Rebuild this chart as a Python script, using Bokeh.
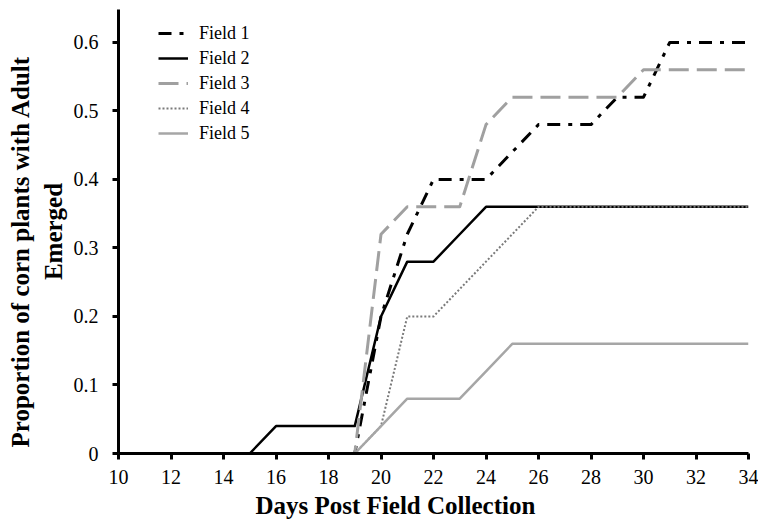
from bokeh.plotting import figure
from bokeh.models import FixedTicker, Legend, LegendItem, Range1d, Title
from bokeh.embed import file_html
from bokeh.resources import INLINE

days = list(range(10, 35))
field1 = [0, 0, 0, 0, 0, 0, 0, 0, 0, 0, 0.2, 0.32, 0.4, 0.4, 0.4, 0.44, 0.48, 0.48, 0.48, 0.52, 0.52, 0.6, 0.6, 0.6, 0.6]
field2 = [0, 0, 0, 0, 0, 0, 0.04, 0.04, 0.04, 0.04, 0.2, 0.28, 0.28, 0.32, 0.36, 0.36, 0.36, 0.36, 0.36, 0.36, 0.36, 0.36, 0.36, 0.36, 0.36]
field3 = [0, 0, 0, 0, 0, 0, 0, 0, 0, 0, 0.32, 0.36, 0.36, 0.36, 0.48, 0.52, 0.52, 0.52, 0.52, 0.52, 0.56, 0.56, 0.56, 0.56, 0.56]
field4 = [0, 0, 0, 0, 0, 0, 0, 0, 0, 0, 0.04, 0.2, 0.2, 0.24, 0.28, 0.32, 0.36, 0.36, 0.36, 0.36, 0.36, 0.36, 0.36, 0.36, 0.36]
field5 = [0, 0, 0, 0, 0, 0, 0, 0, 0, 0, 0.04, 0.08, 0.08, 0.08, 0.12, 0.16, 0.16, 0.16, 0.16, 0.16, 0.16, 0.16, 0.16, 0.16, 0.16]
series_names = ["Field 1", "Field 2", "Field 3", "Field 4", "Field 5"]

x_ticks = [10, 12, 14, 16, 18, 20, 22, 24, 26, 28, 30, 32, 34]
y_ticks = [0, 0.1, 0.2, 0.3, 0.4, 0.5, 0.6]
y_tick_labels = ["0", "0.1", "0.2", "0.3", "0.4", "0.5", "0.6"]

x_title = "Days Post Field Collection"
y_title_1 = "Proportion of corn plants with Adult"
y_title_2 = "Emerged"

FONT = "Liberation Serif"

p = figure(width=758, height=526, output_backend="svg", toolbar_location=None,
           x_range=Range1d(10, 34), y_range=Range1d(0, 0.648),
           min_border_left=118, min_border_right=10, min_border_top=9, min_border_bottom=73)
p.outline_line_color = None
p.grid.visible = False
p.background_fill_color = "white"

styles = [
    dict(line_color="black", line_width=3, line_dash="13 8 4 8"),
    dict(line_color="black", line_width=2.5),
    dict(line_color="#a0a0a0", line_width=3, line_dash="20 8"),
    dict(line_color="#7a7a7a", line_width=2, line_dash="2 2"),
    dict(line_color="#a6a6a6", line_width=2.5),
]
series = [field1, field2, field3, field4, field5]
renderers = []
for ys, st in zip(series, styles):
    r = p.line(days, ys, line_join="round", **st)
    renderers.append(r)

for ax in (p.xaxis[0], p.yaxis[0]):
    ax.axis_line_width = 3
    ax.axis_line_color = "black"
    ax.major_tick_line_width = 3
    ax.major_tick_line_color = "black"
    ax.major_tick_out = 6
    ax.major_tick_in = 0
    ax.minor_tick_line_color = None
    ax.major_label_text_font = FONT
    ax.major_label_text_font_size = "20px"
    ax.major_label_text_color = "black"

p.xaxis.ticker = FixedTicker(ticks=x_ticks)
p.xaxis.major_label_standoff = 10
p.yaxis.ticker = FixedTicker(ticks=y_ticks)
p.yaxis.major_label_overrides = dict(zip(y_ticks, y_tick_labels))
p.yaxis.major_label_standoff = 14

title_style = dict(text_font=FONT, text_font_style="bold", text_font_size="25px",
                   text_color="black")
p.add_layout(Title(text=y_title_2, align="center", standoff=8, **title_style), "left")
p.add_layout(Title(text=y_title_1, align="left", offset=6, standoff=0, **title_style), "left")
p.add_layout(Title(text=x_title, align="left", offset=137, standoff=7, **title_style), "below")

items = [LegendItem(label=n, renderers=[r]) for n, r in zip(series_names, renderers)]
legend = Legend(items=items, location=(40, 309), padding=0, margin=0,
                border_line_color=None, background_fill_alpha=0,
                glyph_width=30, glyph_height=22, label_height=22, spacing=3,
                label_standoff=11, label_text_font=FONT, label_text_font_size="18px",
                label_text_color="black")
p.add_layout(legend, "center")

open("out.html", "w").write(file_html(p, INLINE))
